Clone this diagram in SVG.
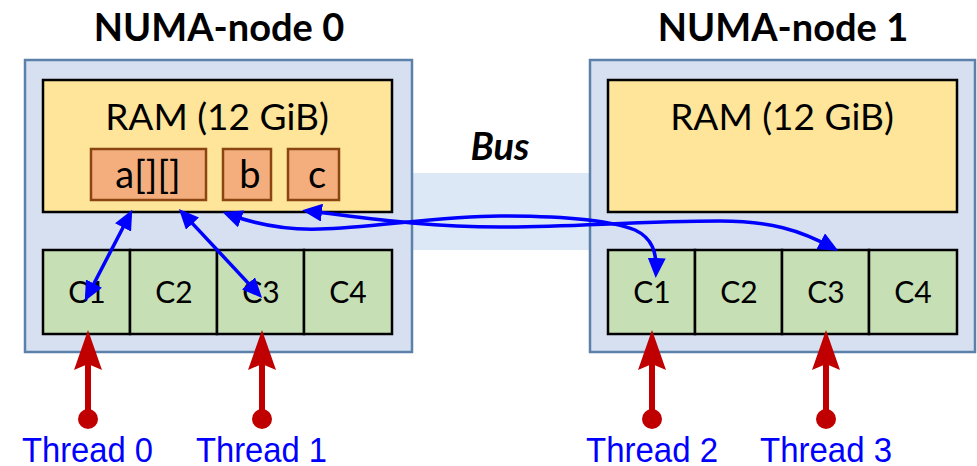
<svg xmlns="http://www.w3.org/2000/svg" width="977" height="466" viewBox="0 0 977 466">
  <style>
    .title { font-family: Lato, "Liberation Sans", sans-serif; font-weight: bold; font-size: 38px; fill: #000; text-anchor: middle; }
    .bus { font-family: Lato, "Liberation Sans", sans-serif; font-weight: bold; font-style: italic; font-size: 38px; fill: #000; text-anchor: middle; }
    .outer { fill: #d7e0f0; stroke: #5b80aa; stroke-width: 2.5; }
    .ram { fill: #fee599; stroke: #000; stroke-width: 2.5; }
    .var { fill: #f4ae7e; stroke: #8b4513; stroke-width: 2.5; }
    .core { fill: #c6dfb5; stroke: #000; stroke-width: 2.5; }
    .ramlabel { font-family: Lato, "Liberation Sans", sans-serif; font-size: 37px; fill: #000; text-anchor: middle; }
    .varlabel { font-family: Lato, "Liberation Sans", sans-serif; font-size: 38px; fill: #000; text-anchor: middle; }
    .corelabel { font-family: Lato, "Liberation Sans", sans-serif; font-size: 30px; fill: #000; text-anchor: middle; }
    .thread { font-family: "Liberation Sans Narrow", "Liberation Sans", sans-serif; font-size: 35px; fill: #0000ff; }
    .link { fill: none; stroke: #0000ff; stroke-width: 3.5; marker-end: url(#blueHead); marker-start: url(#blueHead); }
    .redline { stroke: #c00000; stroke-width: 6; }
    .redfill { fill: #c00000; }
  </style>
  <defs>
    <marker id="blueHead" markerUnits="userSpaceOnUse" viewBox="0 0 20 18" markerWidth="20" markerHeight="18" refX="14" refY="9" orient="auto-start-reverse">
      <path d="M0,0 L20,9 L0,18 Z" fill="#0000ff"/>
    </marker>
    <!-- thread pointer: tip at origin, dot below -->
    <g id="threadArrow">
      <line class="redline" x1="0" y1="30" x2="0" y2="89"/>
      <path class="redfill" d="M0,0 L14,40 L0,34 L-14,40 Z"/>
      <circle class="redfill" cx="0" cy="89" r="10"/>
    </g>
  </defs>

  <rect x="0" y="0" width="977" height="466" fill="#ffffff"/>

  <!-- interconnect band between the two nodes -->
  <rect id="bus-band" x="412" y="173" width="178" height="77" fill="#dce8f5"/>
  <text class="bus" x="500" y="160">Bus</text>

  <g id="numa-node-0">
    <text class="title" x="219" y="41">NUMA-node 0</text>
    <rect class="outer" x="25" y="60" width="387" height="292"/>
    <g id="ram-0">
      <rect class="ram" x="43" y="80" width="349" height="132"/>
      <text class="ramlabel" x="217" y="130">RAM (12 GiB)</text>
      <rect class="var" x="91" y="149" width="115" height="51"/>
      <text class="varlabel" x="148" y="188">a[][]</text>
      <rect class="var" x="223" y="149" width="48" height="51"/>
      <text class="varlabel" x="250" y="188">b</text>
      <rect class="var" x="288" y="149" width="51" height="51"/>
      <text class="varlabel" x="317" y="188">c</text>
    </g>
    <g id="cores-0">
      <rect class="core" x="43" y="250" width="87" height="84"/>
      <rect class="core" x="130" y="250" width="87" height="84"/>
      <rect class="core" x="217" y="250" width="87" height="84"/>
      <rect class="core" x="304" y="250" width="88" height="84"/>
      <text class="corelabel" x="87" y="303">C1</text>
      <text class="corelabel" x="174" y="303">C2</text>
      <text class="corelabel" x="261" y="303">C3</text>
      <text class="corelabel" x="348" y="303">C4</text>
    </g>
  </g>

  <g id="numa-node-1">
    <text class="title" x="783" y="41">NUMA-node 1</text>
    <rect class="outer" x="590" y="60" width="385" height="292"/>
    <g id="ram-1">
      <rect class="ram" x="608" y="80" width="349" height="132"/>
      <text class="ramlabel" x="782" y="130">RAM (12 GiB)</text>
    </g>
    <g id="cores-1">
      <rect class="core" x="608" y="250" width="87" height="84"/>
      <rect class="core" x="695" y="250" width="87" height="84"/>
      <rect class="core" x="782" y="250" width="87" height="84"/>
      <rect class="core" x="869" y="250" width="88" height="84"/>
      <text class="corelabel" x="652" y="303">C1</text>
      <text class="corelabel" x="739" y="303">C2</text>
      <text class="corelabel" x="826" y="303">C3</text>
      <text class="corelabel" x="913" y="303">C4</text>
    </g>
  </g>

  <g id="connectors">
    <!-- memory accesses between cores and RAM -->
    <path class="link" d="M129.5,215 L87.5,296"/>
    <path class="link" d="M183,213.4 L258,293.6"/>
    <path class="link" d="M228,214 C260,226 290,230 320,229 C370,228 440,216 500,216 C560,216 610,220 635,230 C652,238 657,252 656,272"/>
    <path class="link" d="M308,211 C360,217 420,227 500,227 C570,227 640,221 720,221 C770,221 800,230 833,248"/>
    <!-- threads pinned to cores -->
    <use href="#threadArrow" x="88" y="330"/>
    <use href="#threadArrow" x="262" y="330"/>
    <use href="#threadArrow" x="652" y="330"/>
    <use href="#threadArrow" x="826" y="330"/>
  </g>

  <g id="thread-labels">
    <text class="thread" x="22" y="462" textLength="131" lengthAdjust="spacingAndGlyphs">Thread 0</text>
    <text class="thread" x="196" y="462" textLength="131" lengthAdjust="spacingAndGlyphs">Thread 1</text>
    <text class="thread" x="586" y="462" textLength="132" lengthAdjust="spacingAndGlyphs">Thread 2</text>
    <text class="thread" x="760" y="462" textLength="132" lengthAdjust="spacingAndGlyphs">Thread 3</text>
  </g>
</svg>
